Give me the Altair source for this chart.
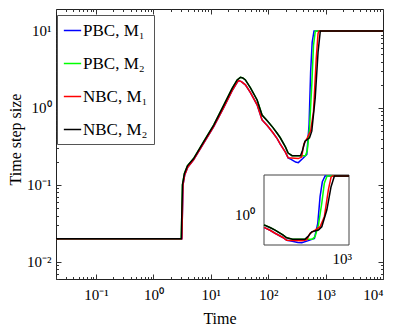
import altair as alt
import pandas as pd

# ---------------- data ----------------
series_names = ["PBC, M₁", "PBC, M₂", "NBC, M₁", "NBC, M₂"]
series_colors = ["#0000ff", "#00ff00", "#ff0000", "#000000"]

t_pbc_m1 = [0.02, 3.12, 3.27, 3.5, 3.95, 5.0, 7.5, 11.2, 16.8, 23.5, 28.7, 30.6, 34, 40, 49, 64, 78, 96,
            120, 143, 162, 200, 222, 250, 300, 334, 399, 470, 515, 548, 583, 628, 1200, 10000]
v_pbc_m1 = [0.02, 0.02, 0.10, 0.135, 0.17, 0.212, 0.35, 0.57, 1.02, 1.68, 2.15, 2.27, 2.2, 2.0, 1.58, 1.1, 0.70, 0.59,
            0.48, 0.40, 0.34, 0.265, 0.225, 0.215, 0.198, 0.195, 0.22, 0.25, 0.61, 2.95, 7.1, 10, 10, 10]

t_pbc_m2 = [0.02, 3.05, 3.2, 3.45, 3.9, 5.0, 7.5, 11.2, 16.8, 23.5, 28.7, 32.8, 36, 40, 49, 64, 78, 96,
            120, 143, 162, 200, 222, 260, 365, 445, 479, 524, 574, 615, 662, 1200, 10000]
v_pbc_m2 = [0.02, 0.02, 0.10, 0.14, 0.177, 0.22, 0.365, 0.60, 1.09, 1.8, 2.31, 2.5, 2.45, 2.31, 1.82, 1.27, 0.81, 0.68,
            0.56, 0.47, 0.41, 0.31, 0.26, 0.24, 0.24, 0.24, 0.28, 0.55, 2.0, 6.5, 10, 10, 10]

t_nbc_m1 = [0.02, 3.12, 3.27, 3.5, 3.95, 5.0, 7.5, 11.2, 16.8, 23.5, 28.7, 30.6, 34, 40, 49, 64, 78, 96,
            120, 143, 162, 200, 222, 334, 382, 418, 479, 548, 615, 686, 738, 769, 1200, 10000]
v_nbc_m1 = [0.02, 0.02, 0.10, 0.135, 0.17, 0.212, 0.35, 0.57, 1.02, 1.68, 2.15, 2.27, 2.2, 2.0, 1.58, 1.1, 0.70, 0.59,
            0.48, 0.40, 0.34, 0.265, 0.225, 0.22, 0.23, 0.34, 0.41, 0.50, 0.9, 4.4, 9.3, 10, 10, 10]

t_nbc_m2 = [0.02, 3.05, 3.2, 3.45, 3.9, 5.0, 7.5, 11.2, 16.8, 23.5, 28.7, 32.8, 36, 40, 49, 64, 78, 96,
            120, 143, 162, 200, 222, 260, 365, 393, 437, 524, 574, 658, 738, 808, 1200, 10000]
v_nbc_m2 = [0.02, 0.02, 0.10, 0.14, 0.177, 0.22, 0.365, 0.60, 1.09, 1.8, 2.31, 2.5, 2.45, 2.31, 1.82, 1.27, 0.81, 0.68,
            0.56, 0.47, 0.41, 0.31, 0.26, 0.24, 0.24, 0.278, 0.37, 0.41, 0.50, 1.34, 5.3, 10, 10, 10]

x_domain = [0.02, 10000]
y_domain = [0.006, 19.3]
inset_t_domain = [120, 1200]
inset_v_domain = [0.17, 10.6]

x_major = [0.1, 1, 10, 100, 1000, 10000]
y_major = [0.01, 0.1, 1, 10]
x_minor = [k * 10.0 ** e for e in range(-2, 4) for k in range(2, 10) if x_domain[0] <= k * 10.0 ** e <= x_domain[1]]
y_minor = [k * 10.0 ** e for e in range(-3, 2) for k in range(2, 10) if y_domain[0] <= k * 10.0 ** e <= y_domain[1]]

inset_x_ticks = [1000]
inset_x_labels = ["10³"]
inset_y_ticks = [1]
inset_y_labels = ["10⁰"]

rows = []
for name, ts, vs in zip(series_names,
                        [t_pbc_m1, t_pbc_m2, t_nbc_m1, t_nbc_m2],
                        [v_pbc_m1, v_pbc_m2, v_nbc_m1, v_nbc_m2]):
    for t, v in zip(ts, vs):
        rows.append({"series": name, "t": t, "v": v})
df = pd.DataFrame(rows)

anchor_df = pd.DataFrame({"t": [1.0], "v": [1.0]})
frame_df = pd.DataFrame({"t0": [inset_t_domain[0]], "t1": [inset_t_domain[1]],
                         "v0": [inset_v_domain[0]], "v1": [inset_v_domain[1]]})
inset_xlab_df = pd.DataFrame({"t": inset_x_ticks, "v": [inset_v_domain[0]] * len(inset_x_ticks),
                              "label": inset_x_labels})
inset_ylab_df = pd.DataFrame({"t": [inset_t_domain[0]] * len(inset_y_ticks), "v": inset_y_ticks,
                              "label": inset_y_labels})

# ---------------- layout ----------------
W, H = 327, 270
FONT = "Liberation Serif"
IN_X = [208, 293]
IN_Y = [236, 166]

x_scale = alt.Scale(type="log", domain=x_domain, nice=False)
y_scale = alt.Scale(type="log", domain=y_domain, nice=False)

x_lab = ("datum.value < 0.5 ? '10⁻¹' : datum.value < 5 ? '10⁰' : datum.value < 50 ? '10¹' : "
         "datum.value < 500 ? '10²' : datum.value < 5000 ? '10³' : '10⁴'")
y_lab = ("datum.value < 0.05 ? '10⁻²' : datum.value < 0.5 ? '10⁻¹' : datum.value < 5 ? '10⁰' : '10¹'")

color = alt.Color(
    "series:N",
    scale=alt.Scale(domain=series_names, range=series_colors),
    legend=alt.Legend(
        title=None, orient="none", legendX=1, legendY=6, direction="vertical",
        symbolType="stroke", symbolSize=300, symbolStrokeWidth=1.5,
        labelFont=FONT, labelFontSize=17, labelColor="black", labelOffset=1, labelLimit=0,
        padding=6, rowPadding=15, strokeColor="#555", fillColor="white",
    ),
)

lines = alt.Chart(df).mark_line(strokeWidth=1.5, clip=True).encode(
    x=alt.X("t:Q", scale=x_scale,
            axis=alt.Axis(values=x_major, labelExpr=x_lab, ticks=False, tickSize=0, domain=False,
                          labelPadding=8, labelFontSize=15, title="Time", titleFontSize=16,
                          titleX=W / 2, titleY=44, titleBaseline="alphabetic", titleAlign="center")),
    y=alt.Y("v:Q", scale=y_scale,
            axis=alt.Axis(values=y_major, labelExpr=y_lab, ticks=False, tickSize=0, domain=False,
                          labelPadding=5, labelFontSize=15, title="Time step size", titleFontSize=16,
                          titleX=-33, titleY=130, titleAngle=270, titleBaseline="bottom",
                          titleAlign="center")),
    color=color,
)


def tick_layer(x_orient, y_orient, xv, yv, size):
    return alt.Chart(anchor_df).mark_point(opacity=0).encode(
        x=alt.X("t:Q", scale=x_scale,
                axis=alt.Axis(orient=x_orient, offset=-H, values=xv, labels=False, domain=False,
                              ticks=True, tickSize=size, tickColor="#333", title=None)),
        y=alt.Y("v:Q", scale=y_scale,
                axis=alt.Axis(orient=y_orient, offset=-W, values=yv, labels=False, domain=False,
                              ticks=True, tickSize=size, tickColor="#333", title=None)),
    )


main = alt.layer(
    lines,
    tick_layer("top", "right", x_major, y_major, 5),
    tick_layer("top", "right", x_minor, y_minor, 2.5),
    tick_layer("bottom", "left", x_major, y_major, 5),
    tick_layer("bottom", "left", x_minor, y_minor, 2.5),
).resolve_axis(x="independent", y="independent")

in_x_scale = alt.Scale(type="log", domain=inset_t_domain, range=IN_X, nice=False)
in_y_scale = alt.Scale(type="log", domain=inset_v_domain, range=IN_Y, nice=False)

inset_frame = alt.Chart(frame_df).mark_rect(fill="white", stroke="#444", strokeWidth=1).encode(
    x=alt.X("t0:Q", scale=in_x_scale, axis=None),
    x2="t1:Q",
    y=alt.Y("v0:Q", scale=in_y_scale, axis=None),
    y2="v1:Q",
)

inset_lines = alt.Chart(df).transform_filter(
    f"datum.t >= {inset_t_domain[0]} && datum.t <= {inset_t_domain[1]}"
).mark_line(strokeWidth=1.5).encode(
    x=alt.X("t:Q", scale=in_x_scale, axis=None),
    y=alt.Y("v:Q", scale=in_y_scale, axis=None),
    color=color,
)

inset_xlab = alt.Chart(inset_xlab_df).mark_text(
    font=FONT, fontSize=15, color="black", align="center", baseline="top", dy=7
).encode(
    x=alt.X("t:Q", scale=in_x_scale, axis=None),
    y=alt.Y("v:Q", scale=in_y_scale, axis=None),
    text="label:N",
)

inset_ylab = alt.Chart(inset_ylab_df).mark_text(
    font=FONT, fontSize=15, color="black", align="right", baseline="middle", dx=-9
).encode(
    x=alt.X("t:Q", scale=in_x_scale, axis=None),
    y=alt.Y("v:Q", scale=in_y_scale, axis=None),
    text="label:N",
)

inset = alt.layer(inset_frame, inset_lines, inset_xlab, inset_ylab)

chart = alt.layer(main, inset).resolve_scale(
    x="independent", y="independent"
).properties(
    width=W, height=H,
    padding={"left": 48, "top": 1, "right": 8, "bottom": 48},
    autosize=alt.AutoSizeParams(type="none"),
).configure_view(
    stroke="#222", strokeWidth=1
).configure_axis(
    grid=False, labelFont=FONT, titleFont=FONT, labelColor="black", titleColor="black",
    titleFontWeight="normal",
)

chart.save("out.html", embed_options={"renderer": "svg", "actions": False})
